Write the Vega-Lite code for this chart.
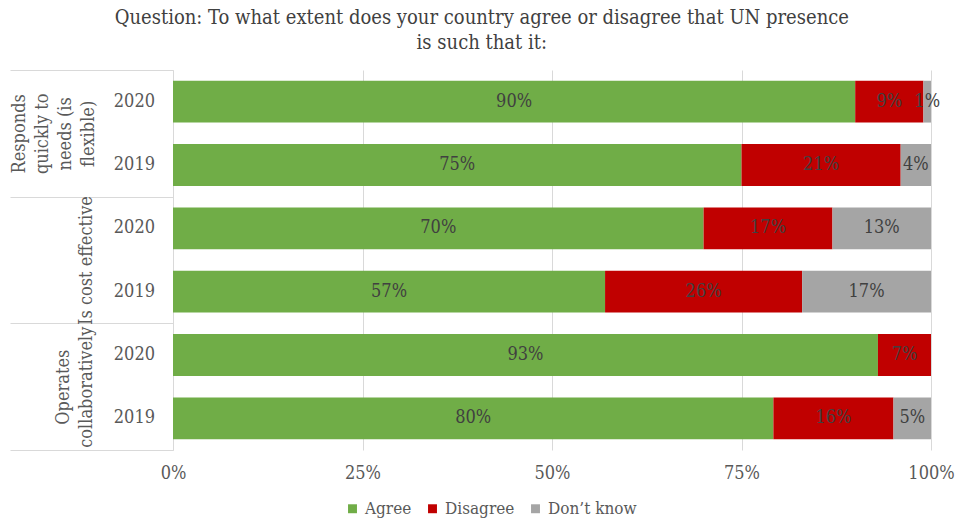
{
  "$schema": "https://vega.github.io/schema/vega-lite/v6.json",
  "width": 758,
  "height": 380,
  "autosize": {"type": "none"},
  "padding": {"left": 173, "top": 70, "right": 24, "bottom": 72},
  "background": "white",
  "config": {
    "font": "DejaVu Serif Condensed, Liberation Serif, serif",
    "view": {"stroke": null}
  },
  "title": {
    "text": ["Question: To what extent does your country agree or disagree that UN presence", "is such that it:"],
    "fontSize": 20,
    "fontWeight": "normal",
    "color": "#404040",
    "anchor": "middle",
    "frame": "bounds",
    "baseline": "bottom",
    "lineHeight": 25,
    "offset": -3
  },
  "data": {
    "values": [
      {"group": "Responds quickly to needs (is flexible)", "year": "2020", "response": "Agree", "k": 1, "value": 0.90},
      {"group": "Responds quickly to needs (is flexible)", "year": "2020", "response": "Disagree", "k": 2, "value": 0.09},
      {"group": "Responds quickly to needs (is flexible)", "year": "2020", "response": "Don’t know", "k": 3, "value": 0.01},
      {"group": "Responds quickly to needs (is flexible)", "year": "2019", "response": "Agree", "k": 1, "value": 0.75},
      {"group": "Responds quickly to needs (is flexible)", "year": "2019", "response": "Disagree", "k": 2, "value": 0.21},
      {"group": "Responds quickly to needs (is flexible)", "year": "2019", "response": "Don’t know", "k": 3, "value": 0.04},
      {"group": "Is cost effective", "year": "2020", "response": "Agree", "k": 1, "value": 0.70},
      {"group": "Is cost effective", "year": "2020", "response": "Disagree", "k": 2, "value": 0.17},
      {"group": "Is cost effective", "year": "2020", "response": "Don’t know", "k": 3, "value": 0.13},
      {"group": "Is cost effective", "year": "2019", "response": "Agree", "k": 1, "value": 0.57},
      {"group": "Is cost effective", "year": "2019", "response": "Disagree", "k": 2, "value": 0.26},
      {"group": "Is cost effective", "year": "2019", "response": "Don’t know", "k": 3, "value": 0.17},
      {"group": "Operates collaboratively", "year": "2020", "response": "Agree", "k": 1, "value": 0.93},
      {"group": "Operates collaboratively", "year": "2020", "response": "Disagree", "k": 2, "value": 0.07},
      {"group": "Operates collaboratively", "year": "2019", "response": "Agree", "k": 1, "value": 0.80},
      {"group": "Operates collaboratively", "year": "2019", "response": "Disagree", "k": 2, "value": 0.16},
      {"group": "Operates collaboratively", "year": "2019", "response": "Don’t know", "k": 3, "value": 0.05}
    ]
  },
  "encoding": {
    "y": {
      "field": "group",
      "type": "nominal",
      "sort": ["Responds quickly to needs (is flexible)", "Is cost effective", "Operates collaboratively"],
      "scale": {"paddingInner": 0, "paddingOuter": 0},
      "axis": {
        "title": null,
        "tickBand": "extent",
        "tickSize": 163,
        "tickColor": "#d9d9d9",
        "domainColor": "#d9d9d9",
        "labelAngle": -90,
        "labelAlign": "center",
        "labelBaseline": "bottom",
        "labelPadding": {
          "condition": [
            {"test": "datum.value == 'Is cost effective'", "value": -85},
            {"test": "datum.value == 'Operates collaboratively'", "value": -62}
          ],
          "value": -18
        },
        "labelFontSize": 18,
        "labelColor": "#595959",
        "labelLineHeight": 23,
        "labelOverlap": false,
        "labelLimit": 0,
        "labelExpr": "datum.value == 'Responds quickly to needs (is flexible)' ? ['Responds', 'quickly to', 'needs (is', 'flexible)'] : datum.value == 'Operates collaboratively' ? ['Operates', 'collaboratively'] : datum.value"
      }
    },
    "yOffset": {
      "field": "year",
      "type": "nominal",
      "sort": ["2020", "2019"],
      "scale": {"paddingInner": 0.34, "paddingOuter": 0.17}
    }
  },
  "layer": [
    {
      "mark": {"type": "bar"},
      "encoding": {
        "x": {
          "field": "value",
          "type": "quantitative",
          "stack": "normalize",
          "scale": {"domain": [0, 1], "nice": false},
          "axis": {
            "title": null,
            "format": ".0%",
            "values": [0, 0.25, 0.5, 0.75, 1],
            "domain": false,
            "ticks": false,
            "grid": true,
            "gridColor": "#d9d9d9",
            "labelFontSize": 18,
            "labelColor": "#595959",
            "labelPadding": 14,
            "labelFlush": false
          }
        },
        "color": {
          "field": "response",
          "type": "nominal",
          "sort": ["Agree", "Disagree", "Don’t know"],
          "scale": {"domain": ["Agree", "Disagree", "Don’t know"], "range": ["#70ad47", "#c00000", "#a5a5a5"]},
          "legend": {
            "title": null,
            "orient": "none",
            "direction": "horizontal",
            "legendX": 171,
            "legendY": 430,
            "symbolType": "square",
            "symbolSize": 80,
            "symbolStrokeWidth": 0,
            "labelFontSize": 17,
            "labelColor": "#595959",
            "labelOffset": 4,
            "columnPadding": 12
          }
        },
        "order": {"field": "k", "type": "quantitative"}
      }
    },
    {
      "mark": {"type": "text", "fontSize": 18, "color": "#404040", "baseline": "middle", "align": "center"},
      "encoding": {
        "x": {"field": "value", "type": "quantitative", "stack": "normalize", "bandPosition": 0.5},
        "detail": {"field": "response", "type": "nominal"},
        "order": {"field": "k", "type": "quantitative"},
        "text": {"field": "value", "type": "quantitative", "format": ".0%"}
      }
    },
    {
      "transform": [{"filter": "datum.response == 'Agree'"}],
      "mark": {"type": "text", "fontSize": 18, "color": "#595959", "baseline": "middle", "align": "right", "dx": -18},
      "encoding": {
        "x": {"datum": 0, "type": "quantitative"},
        "text": {"field": "year", "type": "nominal"}
      }
    }
  ]
}
